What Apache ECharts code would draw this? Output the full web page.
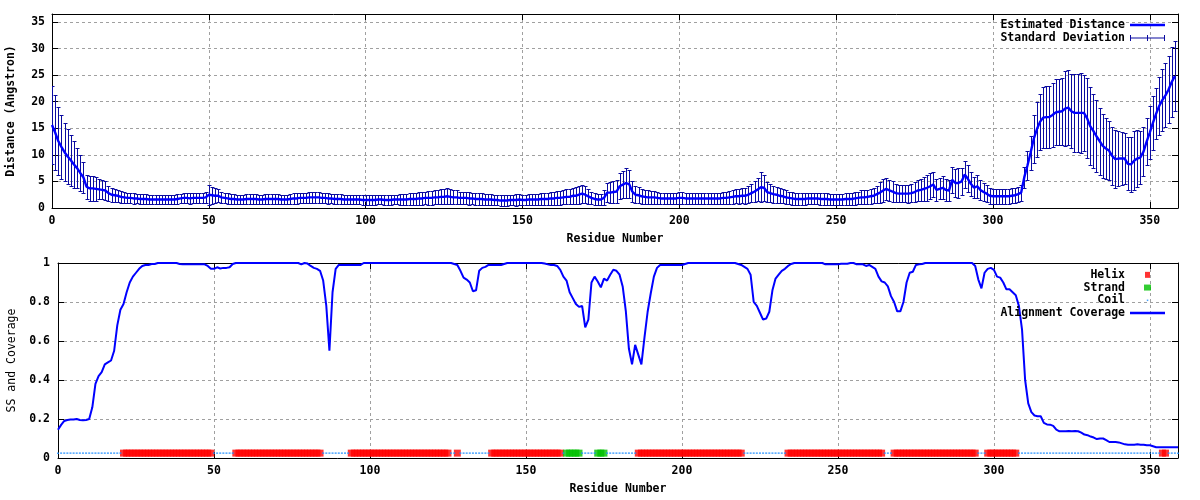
<!DOCTYPE html>
<html><head><meta charset="utf-8">
<script src="https://cdn.jsdelivr.net/npm/echarts@6/dist/echarts.min.js"></script>
<style>html,body{margin:0;padding:0;background:#fff}#c{width:1200px;height:500px}</style>
</head><body><div id="c"></div>
<script>
// ---------- data (residue index = array position, starting at 0) ----------
const distance = [
15.6,14.2,12.6,11.5,10.5,9.7,9.0,8.2,7.5,6.6,
5.8,4.0,3.7,3.7,3.6,3.5,3.4,3.3,2.8,2.5,
2.4,2.3,2.1,2.0,1.9,1.9,1.8,1.8,1.7,1.7,
1.7,1.6,1.6,1.6,1.6,1.6,1.6,1.6,1.6,1.6,
1.7,1.8,1.9,1.9,1.8,1.9,1.9,1.9,1.9,2.0,
2.5,2.4,2.3,2.3,2.0,1.9,1.8,1.7,1.7,1.6,
1.6,1.6,1.7,1.7,1.7,1.7,1.6,1.6,1.7,1.7,
1.7,1.7,1.7,1.6,1.6,1.6,1.7,1.8,1.8,1.9,
1.9,1.9,2.0,2.0,2.0,2.0,1.9,1.9,1.8,1.8,
1.7,1.7,1.7,1.6,1.6,1.6,1.6,1.6,1.6,1.5,
1.5,1.5,1.5,1.5,1.6,1.6,1.5,1.5,1.5,1.6,
1.6,1.6,1.6,1.6,1.7,1.7,1.7,1.8,1.8,1.9,
1.9,1.9,2.0,2.0,2.1,2.1,2.2,2.1,2.0,2.0,
1.9,1.9,1.9,1.8,1.8,1.7,1.7,1.7,1.6,1.6,
1.6,1.5,1.5,1.4,1.4,1.4,1.5,1.5,1.5,1.6,
1.5,1.5,1.6,1.6,1.6,1.6,1.7,1.7,1.7,1.8,
1.8,1.9,1.9,2.0,2.1,2.1,2.3,2.3,2.5,2.7,
2.5,2.2,1.9,1.7,1.6,1.6,1.9,2.9,2.9,3.0,
3.1,4.1,4.4,4.7,4.5,3.1,2.5,2.4,2.2,2.1,
2.0,2.0,2.0,1.9,1.8,1.8,1.8,1.8,1.8,1.8,
1.9,1.9,1.8,1.8,1.8,1.8,1.8,1.8,1.8,1.8,
1.8,1.8,1.8,1.8,1.9,1.9,2.0,2.1,2.2,2.2,
2.3,2.3,2.5,2.8,3.1,3.5,3.9,3.8,3.0,2.8,
2.6,2.5,2.3,2.2,2.0,1.9,1.8,1.7,1.7,1.7,
1.7,1.8,1.8,1.8,1.8,1.7,1.7,1.7,1.6,1.6,
1.6,1.6,1.6,1.7,1.7,1.7,1.8,1.9,2.0,2.0,
2.1,2.2,2.3,2.6,2.9,3.3,3.6,3.3,3.1,2.8,
2.7,2.7,2.7,2.7,2.8,3.0,3.3,3.4,3.6,3.8,
4.1,4.4,3.4,3.6,3.8,3.4,3.3,5.3,4.7,4.7,
5.0,6.3,5.5,4.5,3.8,4.1,3.4,3.0,2.7,2.3,
2.2,2.2,2.2,2.2,2.2,2.2,2.3,2.4,2.6,2.9,
5.8,8.0,10.4,13.0,14.8,16.2,17.0,17.1,17.1,17.5,
18.0,18.1,18.2,18.7,18.9,18.2,17.9,17.9,17.9,17.9,
16.9,15.4,14.5,13.5,12.6,11.7,11.2,10.8,9.8,9.2,
9.3,9.3,9.3,8.3,8.2,8.9,9.3,9.5,10.6,12.5,
14.2,16.0,17.7,19.2,20.3,21.2,22.3,23.7,24.8
];
const stdDev = [
7.3,7.1,6.4,6.0,5.5,5.2,4.8,4.4,3.8,3.4,
2.9,2.3,2.3,2.3,2.2,1.9,1.8,1.8,1.4,1.3,
1.2,1.1,1.1,1.0,1.0,1.0,1.0,0.9,0.9,0.9,
0.9,0.9,0.9,0.9,0.9,0.9,0.9,0.9,0.9,0.9,
0.9,0.9,1.0,1.0,1.0,1.0,1.0,1.0,1.0,1.1,
1.9,1.6,1.4,1.2,1.1,1.0,1.0,1.0,1.0,0.9,
0.9,0.9,1.0,1.0,1.0,1.0,0.9,0.9,0.9,0.9,
0.9,0.9,0.9,0.9,0.9,0.9,0.9,1.0,1.0,1.0,
1.0,1.0,1.0,1.0,1.0,1.0,1.0,1.0,1.0,0.9,
0.9,0.9,0.9,0.9,0.9,0.9,0.9,0.9,0.9,0.9,
0.9,0.9,0.9,0.9,0.9,0.9,0.9,0.9,0.9,0.9,
0.9,1.0,1.0,1.1,1.1,1.1,1.1,1.2,1.2,1.2,
1.3,1.3,1.3,1.3,1.4,1.4,1.5,1.4,1.3,1.3,
1.2,1.2,1.2,1.2,1.1,1.1,1.1,1.1,1.1,1.0,
1.0,1.0,1.0,1.0,1.0,1.0,1.0,1.0,1.1,1.1,
1.0,1.0,1.1,1.1,1.1,1.1,1.1,1.2,1.2,1.2,
1.2,1.3,1.3,1.3,1.4,1.4,1.5,1.6,1.7,1.7,
1.6,1.4,1.2,1.1,1.0,1.1,1.4,1.8,1.9,2.0,
2.2,2.4,2.6,2.8,2.6,2.0,1.6,1.5,1.4,1.3,
1.3,1.2,1.2,1.2,1.1,1.1,1.1,1.1,1.1,1.1,
1.1,1.1,1.1,1.1,1.1,1.1,1.1,1.1,1.1,1.1,
1.1,1.1,1.1,1.1,1.1,1.2,1.2,1.3,1.3,1.4,
1.4,1.5,1.6,1.7,1.9,2.2,2.8,2.5,1.9,1.7,
1.6,1.5,1.4,1.3,1.3,1.2,1.2,1.1,1.1,1.1,
1.1,1.1,1.1,1.1,1.1,1.1,1.1,1.1,1.1,1.1,
1.1,1.1,1.1,1.1,1.1,1.2,1.2,1.2,1.3,1.3,
1.3,1.4,1.4,1.6,1.9,2.1,2.1,2.0,1.9,1.7,
1.6,1.6,1.6,1.7,1.7,1.8,1.9,2.0,2.2,2.4,
2.4,2.4,2.0,2.0,2.2,2.1,2.0,2.4,2.6,2.8,
2.6,2.5,2.5,2.2,2.0,2.2,1.9,1.7,1.6,1.5,
1.4,1.4,1.4,1.4,1.4,1.4,1.4,1.4,1.4,1.5,
2.0,2.8,3.2,4.5,5.2,5.3,5.8,5.8,5.8,6.0,
6.2,6.2,6.3,7.0,7.0,7.0,7.3,7.4,7.5,7.2,
7.5,7.3,7.0,6.8,6.3,6.0,5.8,5.5,5.5,5.4,
5.2,5.0,4.8,5.0,5.2,5.5,5.4,5.0,4.6,4.5,
5.0,5.0,4.8,5.5,5.8,6.0,6.3,6.5,6.6
];
const coverage = [
0.145,0.17,0.19,0.195,0.197,0.197,0.2,0.195,0.193,0.195,
0.2,0.26,0.38,0.42,0.44,0.48,0.49,0.5,0.55,0.68,
0.76,0.79,0.85,0.9,0.93,0.95,0.97,0.985,0.99,0.99,
0.995,0.995,1,1,1,1,1,1,1,0.995,
0.993,0.993,0.993,0.993,0.993,0.993,0.993,0.993,0.985,0.97,
0.97,0.978,0.972,0.975,0.975,0.978,0.995,1,1,1,
1,1,1,1,1,1,1,1,1,1,
1,1,1,1,1,1,1,1,0.993,1,
0.997,0.985,0.975,0.97,0.96,0.91,0.78,0.55,0.85,0.97,
0.99,0.99,0.99,0.99,0.99,0.99,0.99,0.99,1,1,
1,1,1,1,1,1,1,1,1,1,
1,1,1,1,1,1,1,1,1,1,
1,1,1,1,1,1,1,0.995,0.99,0.96,
0.925,0.915,0.9,0.855,0.86,0.96,0.975,0.98,0.99,0.99,
0.99,0.99,0.99,0.995,1,1,1,1,1,1,
1,1,1,1,1,1,0.997,0.993,0.99,0.99,
0.985,0.965,0.93,0.91,0.85,0.82,0.79,0.775,0.78,0.67,
0.71,0.9,0.93,0.905,0.875,0.92,0.91,0.94,0.965,0.96,
0.94,0.88,0.755,0.56,0.48,0.58,0.53,0.48,0.62,0.75,
0.845,0.93,0.975,0.99,0.99,0.99,0.99,0.99,0.99,0.99,
0.99,0.995,1,1,1,1,1,1,1,1,
1,1,1,1,1,1,1,1,0.995,0.99,
0.98,0.97,0.94,0.8,0.78,0.745,0.71,0.715,0.75,0.86,
0.92,0.94,0.96,0.97,0.985,0.995,1,1,1,1,
1,1,1,1,1,1,0.993,0.993,0.993,0.993,
0.993,0.996,0.996,0.996,1,1,0.993,0.993,0.993,0.985,
0.99,0.98,0.97,0.93,0.906,0.9,0.88,0.83,0.8,0.752,
0.752,0.8,0.9,0.95,0.955,0.99,0.993,0.995,1,1,
1,1,1,1,1,1,1,1,1,1,
1,1,1,1,0.985,0.915,0.87,0.95,0.97,0.975,
0.965,0.93,0.925,0.9,0.865,0.865,0.85,0.835,0.78,0.66,
0.4,0.28,0.235,0.218,0.214,0.214,0.18,0.172,0.171,0.165,
0.145,0.137,0.137,0.137,0.138,0.137,0.138,0.137,0.13,0.12,
0.117,0.11,0.105,0.097,0.1,0.1,0.092,0.082,0.082,0.082,
0.08,0.075,0.07,0.068,0.068,0.068,0.07,0.068,0.068,0.065,
0.065,0.06,0.055,0.055,0.055,0.055,0.055,0.055,0.055,0.055
];
// secondary structure segments [first residue, last residue]
const helixSegments = [[21,49],[57,84],[94,125],[128,128],[139,161],[186,219],[234,264],[268,294],[298,307],[354,355]];
const strandSegments = [[163,167],[173,175]];
const ssLevel = 0.025;
// axes
const residueMax = 359;
const residueStep = 50;
const distanceMax = 36.5;
const distanceStep = 5;
const coverageStep = 0.2;

// ---------- build series data ----------
const distLine = distance.map((d, i) => [i, d]);
const errBars = distance.map((d, i) => [i, d - stdDev[i], d + stdDev[i]]);
const covLine = coverage.map((c, i) => [i, c]);
const ssType = coverage.map(() => 'C');
helixSegments.forEach(([a, b]) => { for (let r = a; r <= b; r++) ssType[r] = 'H'; });
strandSegments.forEach(([a, b]) => { for (let r = a; r <= b; r++) ssType[r] = 'E'; });
const helixPts = [], strandPts = [], coilPts = [];
ssType.forEach((t, r) => { (t === 'H' ? helixPts : t === 'E' ? strandPts : coilPts).push([r, ssLevel]); });

// ---------- styling ----------
const FONT = '"DejaVu Sans Mono", "Liberation Mono", monospace';
const FS = 11.5;
const errColor = '#0a0aa0';
const lineBlue = '#0000ff';
const gridLine = { show: true, showMinLine: false, showMaxLine: false, lineStyle: { color: '#a0a0a0', type: [3, 3], width: 1 } };
const tick = { show: true, inside: true, length: 6, lineStyle: { color: '#000', width: 1 } };
const aLine = { show: true, onZero: false, lineStyle: { color: '#000', width: 1 } };
const lbl = (extra) => Object.assign({ color: '#000', fontFamily: FONT, fontSize: FS, fontWeight: 'bold' }, extra);
const nameStyle = (w) => ({ color: '#000', fontFamily: FONT, fontSize: FS, fontWeight: w || 'bold' });

function xAxes(gi) {
  return [
    { gridIndex: gi, type: 'value', min: 0, max: residueMax, interval: residueStep, position: 'bottom',
      axisLine: aLine, axisTick: tick, splitLine: gridLine,
      axisLabel: lbl({ margin: 7, formatter: v => (v % residueStep === 0 ? String(v) : '') }),
      name: 'Residue Number', nameLocation: 'middle', nameGap: 25, nameTextStyle: nameStyle() },
    { gridIndex: gi, type: 'value', min: 0, max: residueMax, interval: residueStep, position: 'top',
      axisLine: aLine, axisTick: tick, splitLine: { show: false }, axisLabel: { show: false } }
  ];
}

const option = {
  animation: false,
  backgroundColor: '#fff',
  grid: [
    { left: 52, top: 14, width: 1126, height: 194, outerBoundsMode: 'none', containLabel: false },
    { left: 58, top: 263, width: 1120, height: 195, outerBoundsMode: 'none', containLabel: false }
  ],
  xAxis: [].concat(xAxes(0), xAxes(1)),
  yAxis: [
    { gridIndex: 0, type: 'value', min: 0, max: distanceMax, interval: distanceStep, position: 'left',
      axisLine: aLine, axisTick: tick, splitLine: gridLine,
      axisLabel: lbl({ margin: 7, formatter: v => (v % distanceStep === 0 ? String(v) : '') }),
      name: 'Distance (Angstron)', nameLocation: 'middle', nameGap: 35, nameRotate: 90, nameTextStyle: nameStyle() },
    { gridIndex: 0, type: 'value', min: 0, max: distanceMax, interval: distanceStep, position: 'right',
      axisLine: aLine, axisTick: tick, splitLine: { show: false }, axisLabel: { show: false } },
    { gridIndex: 1, type: 'value', min: 0, max: 1, interval: coverageStep, position: 'left',
      axisLine: aLine, axisTick: tick, splitLine: gridLine,
      axisLabel: lbl({ margin: 8 }),
      name: 'SS and Coverage', nameLocation: 'middle', nameGap: 40, nameRotate: 90, nameTextStyle: nameStyle('normal') },
    { gridIndex: 1, type: 'value', min: 0, max: 1, interval: coverageStep, position: 'right',
      axisLine: aLine, axisTick: tick, splitLine: { show: false }, axisLabel: { show: false } }
  ],
  legend: [
    { orient: 'vertical', align: 'right', right: 35, top: 18.5, itemWidth: 35, itemHeight: 7, itemGap: 0, padding: 0,
      selectedMode: false,
      textStyle: { color: '#000', fontFamily: FONT, fontSize: FS, fontWeight: 'bold', lineHeight: 13 },
      data: [
        { name: 'Estimated Distance', icon: 'path://M0,0H35V2.4H0Z' },
        { name: 'Standard Deviation', icon: 'path://M0,0H1V6H0Z M0,2.5H35V3.5H0Z M17,0H18V6H17Z M34,0H35V6H34Z' }
      ] },
    { orient: 'vertical', align: 'right', right: 35, top: 268.5, itemWidth: 35, itemHeight: 7, itemGap: 0, padding: 0,
      selectedMode: false,
      textStyle: { color: '#000', fontFamily: FONT, fontSize: FS, fontWeight: 'bold', lineHeight: 12.7 },
      data: [
        { name: 'Helix', icon: 'path://M0,0M7,7M1,0.5H6V6.5H1Z' },
        { name: 'Strand', icon: 'path://M0,0M7,7M0,0.5H7V6.5H0Z' },
        { name: 'Coil', icon: 'path://M0,0M7,7M2.8,2.8H4.3V4.3H2.8Z' },
        { name: 'Alignment Coverage', icon: 'path://M0,0H35V2.4H0Z' }
      ] }
  ],
  series: [
    { name: 'Standard Deviation', type: 'custom', xAxisIndex: 0, yAxisIndex: 0, clip: true,
      itemStyle: { color: errColor },
      encode: { x: 0, y: [1, 2] },
      data: errBars,
      renderItem: function (params, api) {
        const x = api.value(0);
        const lo = api.coord([x, api.value(1)]);
        const hi = api.coord([x, api.value(2)]);
        const px = Math.round(lo[0]) + 0.5;
        const yl = Math.round(lo[1]) + 0.5, yh = Math.round(hi[1]) + 0.5;
        const w = 2;
        const st = { stroke: errColor, lineWidth: 1, fill: null };
        return { type: 'group', children: [
          { type: 'line', shape: { x1: px, y1: yl, x2: px, y2: yh }, style: st },
          { type: 'line', shape: { x1: px - w, y1: yl, x2: px + w, y2: yl }, style: st },
          { type: 'line', shape: { x1: px - w, y1: yh, x2: px + w, y2: yh }, style: st }
        ] };
      } },
    { name: 'Estimated Distance', type: 'line', xAxisIndex: 0, yAxisIndex: 0, data: distLine,
      showSymbol: false, symbol: 'none', color: lineBlue, lineStyle: { color: lineBlue, width: 2.4 } },
    { name: 'Helix', type: 'scatter', xAxisIndex: 2, yAxisIndex: 2, data: helixPts,
      symbol: 'rect', symbolSize: 7, itemStyle: { color: '#ff0000' } },
    { name: 'Strand', type: 'scatter', xAxisIndex: 2, yAxisIndex: 2, data: strandPts,
      symbol: 'rect', symbolSize: 7, itemStyle: { color: '#00c000' } },
    { name: 'Coil', type: 'scatter', xAxisIndex: 2, yAxisIndex: 2, data: coilPts,
      symbol: 'rect', symbolSize: [2, 1.5], itemStyle: { color: '#1a8cff' } },
    { name: 'Alignment Coverage', type: 'line', xAxisIndex: 2, yAxisIndex: 2, data: covLine,
      showSymbol: false, symbol: 'none', color: lineBlue, lineStyle: { color: lineBlue, width: 2 }, z: 3 }
  ]
};

const chart = echarts.init(document.getElementById('c'), null, { renderer: 'canvas' });
chart.setOption(option);
</script>
</body></html>
